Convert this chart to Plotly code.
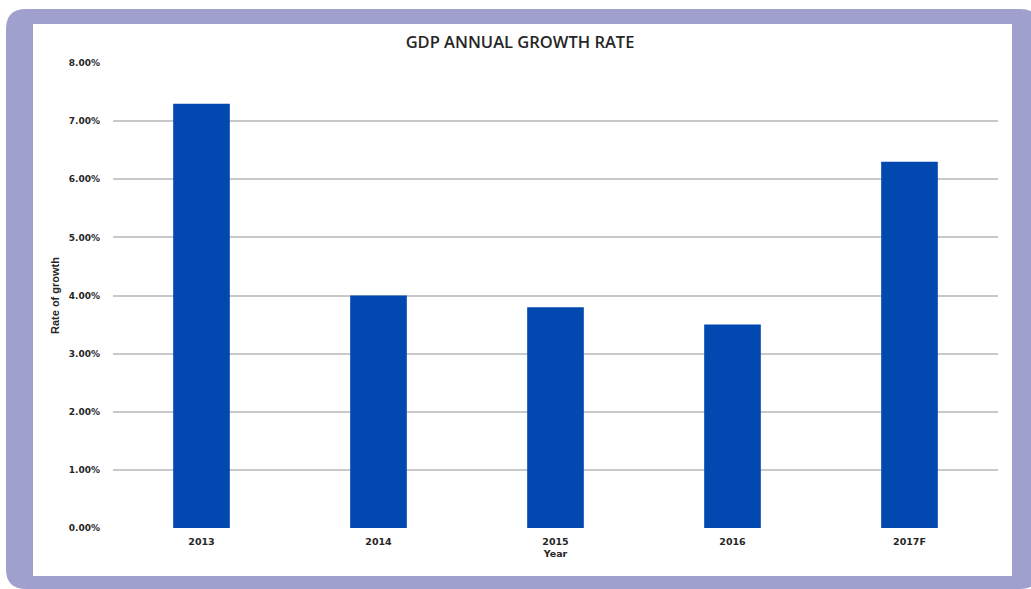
import plotly.graph_objects as go

# GDP growth by year (2017 is a forecast)
years = ["2013", "2014", "2015", "2016", "2017F"]
growth = [0.073, 0.040, 0.038, 0.035, 0.063]
y_ticks = [0.0, 0.01, 0.02, 0.03, 0.04, 0.05, 0.06, 0.07, 0.08]

W, H = 1031, 589
L, R, T, B = 113, 33, 63, 61
PW, PH = W - L - R, H - T - B


def px(x):
    return (x - L) / PW


def py(y):
    return (H - B - y) / PH


def rounded_rect(x0, y0, x1, y1, r):
    pts = [
        f"M {px(x0 + r)},{py(y0)}",
        f"L {px(x1 - r)},{py(y0)}",
        f"Q {px(x1)},{py(y0)} {px(x1)},{py(y0 + r)}",
        f"L {px(x1)},{py(y1 - r)}",
        f"Q {px(x1)},{py(y1)} {px(x1 - r)},{py(y1)}",
        f"L {px(x0 + r)},{py(y1)}",
        f"Q {px(x0)},{py(y1)} {px(x0)},{py(y1 - r)}",
        f"L {px(x0)},{py(y0 + r)}",
        f"Q {px(x0)},{py(y0)} {px(x0 + r)},{py(y0)}",
        "Z",
    ]
    return " ".join(pts)


fig = go.Figure(
    go.Bar(
        x=years,
        y=growth,
        marker=dict(color="#0149B1", line=dict(width=0)),
    )
)

fig.add_shape(
    type="path", xref="paper", yref="paper", layer="below",
    path=rounded_rect(6, 9, 1040, 589, 20),
    fillcolor="#9FA0CD", line=dict(width=0),
)
fig.add_shape(
    type="rect", xref="paper", yref="paper", layer="below",
    x0=px(33), x1=px(1012), y0=py(576), y1=py(24),
    fillcolor="white", line=dict(width=0),
)

tick_font = "DejaVu Sans, Verdana, sans-serif"
title_font = "Open Sans, Arial, sans-serif"

fig.update_layout(
    width=W, height=H,
    margin=dict(l=L, r=R, t=T, b=B),
    paper_bgcolor="white",
    plot_bgcolor="rgba(0,0,0,0)",
    bargap=0.68,
    showlegend=False,
    title=dict(
        text="GDP ANNUAL GROWTH RATE",
        x=px(520), xanchor="center", xref="paper",
        y=1 - 42 / H, yanchor="middle", yref="container",
        font=dict(family=title_font, size=16.5, color="#262626", weight=600),
    ),
    font=dict(family=tick_font, color="#262626"),
)

fig.update_xaxes(
    showgrid=False, zeroline=False, showline=False,
    tickfont=dict(family=tick_font, size=9.5, color="#262626", weight="bold"),
    ticks="", ticklabelstandoff=6,
    title=dict(text="Year", font=dict(family=tick_font, size=9.5, weight="bold"),
               standoff=4),
)

fig.update_yaxes(
    range=[0, 0.08],
    tickvals=y_ticks,
    tickformat=".2%",
    tickfont=dict(family=tick_font, size=9, color="#262626", weight="bold"),
    showgrid=True, gridcolor="#C8C8C8", gridwidth=2,
    zeroline=False, showline=False, ticks="",
    ticklabelstandoff=12,
    title=dict(text="<b>Rate of growth</b>",
               font=dict(family="Liberation Sans Narrow, Liberation Sans, Arial", size=11),
               standoff=6),
)

fig.write_html("out.html")
